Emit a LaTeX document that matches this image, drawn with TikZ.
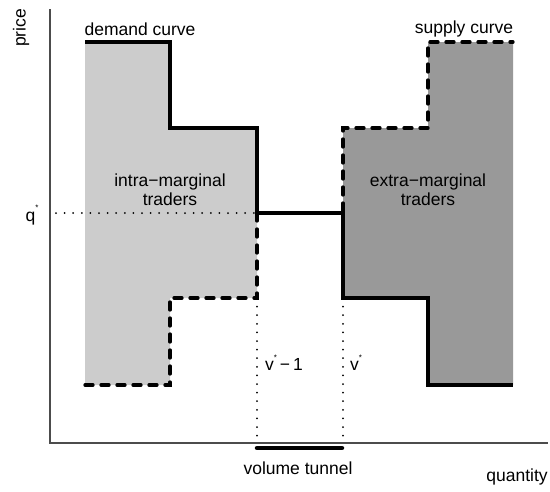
\documentclass[tikz,border=0pt]{standalone}
\usepackage{fontspec}
\setmainfont{Liberation Sans}
\newcommand{\mystar}{\raisebox{1.1ex}{\fontsize{8}{8}\selectfont *}}
\begin{document}
\begin{tikzpicture}[x=1pt,y=-1pt,
  lbl/.style={font=\fontsize{17.5}{19}\selectfont, inner sep=0pt, align=center},
  axisline/.style={draw=black!70, line width=1.3pt},
  demandline/.style={line width=3.3pt, line join=miter},
  supplyline/.style={line width=3.3pt, dash pattern=on 8pt off 8pt, line cap=round},
  dotline/.style={line width=2pt, dash pattern=on 0pt off 8.6pt, line cap=round},
  lightfill/.style={fill=black!20},
  darkfill/.style={fill=black!40},
  tunnel/.style={line width=4.5pt, line cap=round}]
\useasboundingbox (0,0) rectangle (550,491);
% key coordinates
\coordinate (d0) at (85,42);
\coordinate (d1) at (170,42);
\coordinate (d2) at (170,128);
\coordinate (d3) at (257,128);
\coordinate (d4) at (257,213);
\coordinate (d5) at (343,213);
\coordinate (d6) at (343,298);
\coordinate (d7) at (428,298);
\coordinate (d8) at (428,385);
\coordinate (d9) at (513,385);
\coordinate (s0) at (85,385);
\coordinate (s1) at (170,385);
\coordinate (s2) at (170,298);
\coordinate (s3) at (257,298);
\coordinate (s4) at (257,213);
\coordinate (s5) at (343,213);
\coordinate (s6) at (343,128);
\coordinate (s7) at (428,128);
\coordinate (s8) at (428,42);
\coordinate (s9) at (513,42);
% fills
\fill[lightfill] (d0) -- (d1) -- (d2) -- (d3) -- (s3) -- (s2) -- (s1) -- (s0) -- cycle;
\fill[darkfill] (s6) -- (s7) -- (s8) -- (s9) -- (d9) -- (d8) -- (d7) -- (d6) -- cycle;
% axes
\coordinate (ytop) at (50,9);
\coordinate (orig) at (50,443);
\coordinate (xend) at (548,443);
\draw[axisline] (ytop) -- (orig) -- (xend);
% dotted guides
\coordinate (qleft) at (56,213);
\coordinate (v1b) at (257,443);
\coordinate (v2b) at (343,443);
\draw[dotline] (qleft) -- (d4);
\draw[dotline] (s3) -- (v1b);
\draw[dotline] (d6) -- (v2b);
% curves
\draw[demandline] (d0) -- (d1) -- (d2) -- (d3) -- (d4) -- (d5) -- (d6) -- (d7) -- (d8) -- (d9);
\draw[supplyline] (s0) -- (s1) -- (s2) -- (s3) -- (s4) -- (s5) -- (s6) -- (s7) -- (s8) -- (s9);
% volume tunnel
\coordinate (t0) at (257,448);
\coordinate (t1) at (342,448);
\draw[tunnel] (t0) -- (t1);
% labels
\node[lbl, rotate=90] (price) at (21,28) {price};
\node[lbl] (demand) at (140,29) {demand curve};
\node[lbl] (supply) at (464,29) {supply curve};
\node[lbl] (q) at (32,215) {q\mystar};
\node[lbl] (intra) at (170,190) {intra−marginal\\traders};
\node[lbl] (extra) at (428,190) {extra−marginal\\traders};
\node[lbl, anchor=west] (vm1) at (265,363) {v\mystar\,−\,1};
\node[lbl, anchor=west] (v) at (350,363) {v\mystar};
\node[lbl] (vt) at (298,468) {volume tunnel};
\node[lbl] (qty) at (517,477) {quantity};
\end{tikzpicture}
\end{document}
